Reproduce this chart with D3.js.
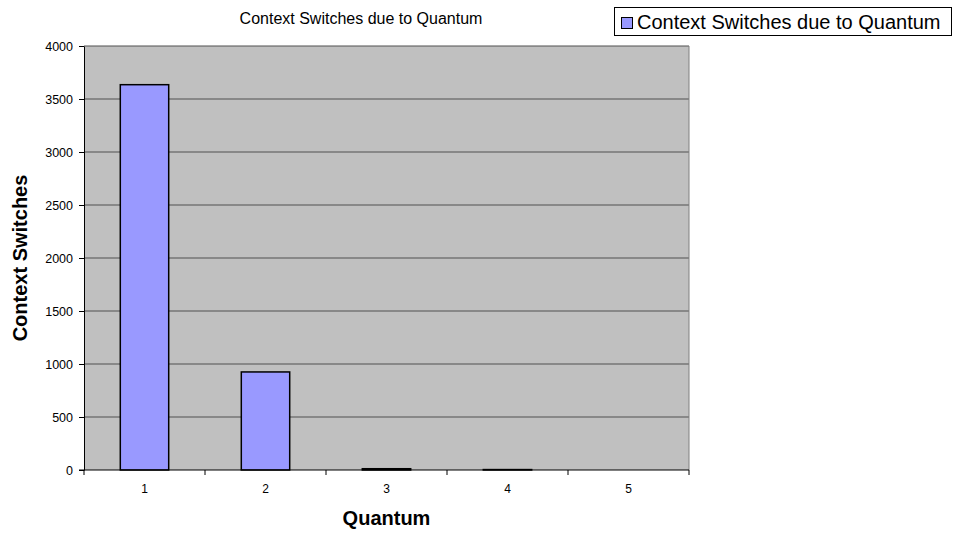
<!DOCTYPE html>
<html>
<head>
<meta charset="utf-8">
<script src="https://cdn.jsdelivr.net/npm/d3@7"></script>
<style>
  body { margin: 0; background: #fff; }
  text { font-family: Arial, "Liberation Sans", sans-serif; fill: #000; }
</style>
</head>
<body>
<div id="chart"></div>
<script>
// data
const categories = ['1', '2', '3', '4', '5'];
const switches = [3635, 925, 12, 4, 0];
const yTicks = [0, 500, 1000, 1500, 2000, 2500, 3000, 3500, 4000];
const seriesName = 'Context Switches due to Quantum';

const W = 961, H = 535;
const plot = { left: 84, right: 689, top: 46, bottom: 470 };

const svg = d3.select('#chart')
    .append('svg')
    .attr('width', W)
    .attr('height', H);

// scales
const x = d3.scaleBand()
    .domain(categories)
    .range([plot.left, plot.right])
    .paddingInner(0.6)
    .paddingOuter(0.3);

const y = d3.scaleLinear()
    .domain([0, 4000])
    .range([plot.bottom, plot.top]);

// plot background
svg.append('rect')
    .attr('x', plot.left)
    .attr('y', plot.top)
    .attr('width', plot.right - plot.left)
    .attr('height', plot.bottom - plot.top)
    .style('fill', '#c0c0c0');

// grid lines
svg.selectAll('.grid')
    .data(yTicks.filter(d => d > 0))
    .join('line')
    .attr('class', 'grid')
    .attr('x1', plot.left)
    .attr('x2', plot.right)
    .attr('y1', d => y(d))
    .attr('y2', d => y(d))
    .style('stroke', '#505050')
    .style('stroke-width', 1.2);

// right border of plot
svg.append('line')
    .attr('x1', plot.right).attr('x2', plot.right)
    .attr('y1', plot.top).attr('y2', plot.bottom)
    .style('stroke', '#808080')
    .style('stroke-width', 1);

// bars
svg.selectAll('.bar')
    .data(switches)
    .join('rect')
    .attr('class', 'bar')
    .attr('x', (d, i) => x(categories[i]))
    .attr('y', d => y(d))
    .attr('width', x.bandwidth())
    .attr('height', d => y(0) - y(d))
    .style('fill', '#9999ff')
    .style('stroke', d => d > 0 ? '#000' : 'none')
    .style('stroke-width', 1.5);

// y axis
const yAxis = svg.append('g')
    .attr('transform', 'translate(' + plot.left + ',0)')
    .call(d3.axisLeft(y).tickValues(yTicks).tickFormat(d3.format('d'))
        .tickSize(5).tickPadding(6).tickSizeOuter(0));
yAxis.selectAll('text').style('font-size', '12.5px').style('fill', '#000');
yAxis.selectAll('line, path').style('stroke', '#000');

// x axis: ticks at category boundaries
const step = (plot.right - plot.left) / categories.length;
const xAxis = svg.append('g');
xAxis.append('line')
    .attr('x1', plot.left - 5).attr('x2', plot.right)
    .attr('y1', plot.bottom).attr('y2', plot.bottom)
    .style('stroke', '#000');
xAxis.selectAll('.xtick')
    .data(d3.range(categories.length + 1))
    .join('line')
    .attr('x1', i => plot.left + i * step)
    .attr('x2', i => plot.left + i * step)
    .attr('y1', plot.bottom)
    .attr('y2', plot.bottom + 5)
    .style('stroke', '#000');
xAxis.selectAll('.xlabel')
    .data(categories)
    .join('text')
    .attr('x', d => x(d) + x.bandwidth() / 2)
    .attr('y', 493)
    .attr('text-anchor', 'middle')
    .style('font-size', '12px')
    .text(d => d);

// titles
svg.append('text')
    .attr('x', 361)
    .attr('y', 24)
    .attr('text-anchor', 'middle')
    .style('font-size', '16px')
    .text(seriesName);

svg.append('text')
    .attr('x', (plot.left + plot.right) / 2)
    .attr('y', 525)
    .attr('text-anchor', 'middle')
    .style('font-size', '20px')
    .style('font-weight', 'bold')
    .text('Quantum');

svg.append('text')
    .attr('transform', 'translate(27,' + 258 + ') rotate(-90)')
    .attr('text-anchor', 'middle')
    .style('font-size', '20px')
    .style('font-weight', 'bold')
    .text('Context Switches');

// legend
const legend = svg.append('g');
legend.append('rect')
    .attr('x', 614.5).attr('y', 7.5)
    .attr('width', 337).attr('height', 28)
    .style('fill', '#fff')
    .style('stroke', '#000');
legend.append('rect')
    .attr('x', 621.5).attr('y', 17.5)
    .attr('width', 11).attr('height', 11)
    .style('fill', '#9999ff')
    .style('stroke', '#000');
legend.append('text')
    .attr('x', 637)
    .attr('y', 29)
    .style('font-size', '20px')
    .text(seriesName);
</script>
</body>
</html>
